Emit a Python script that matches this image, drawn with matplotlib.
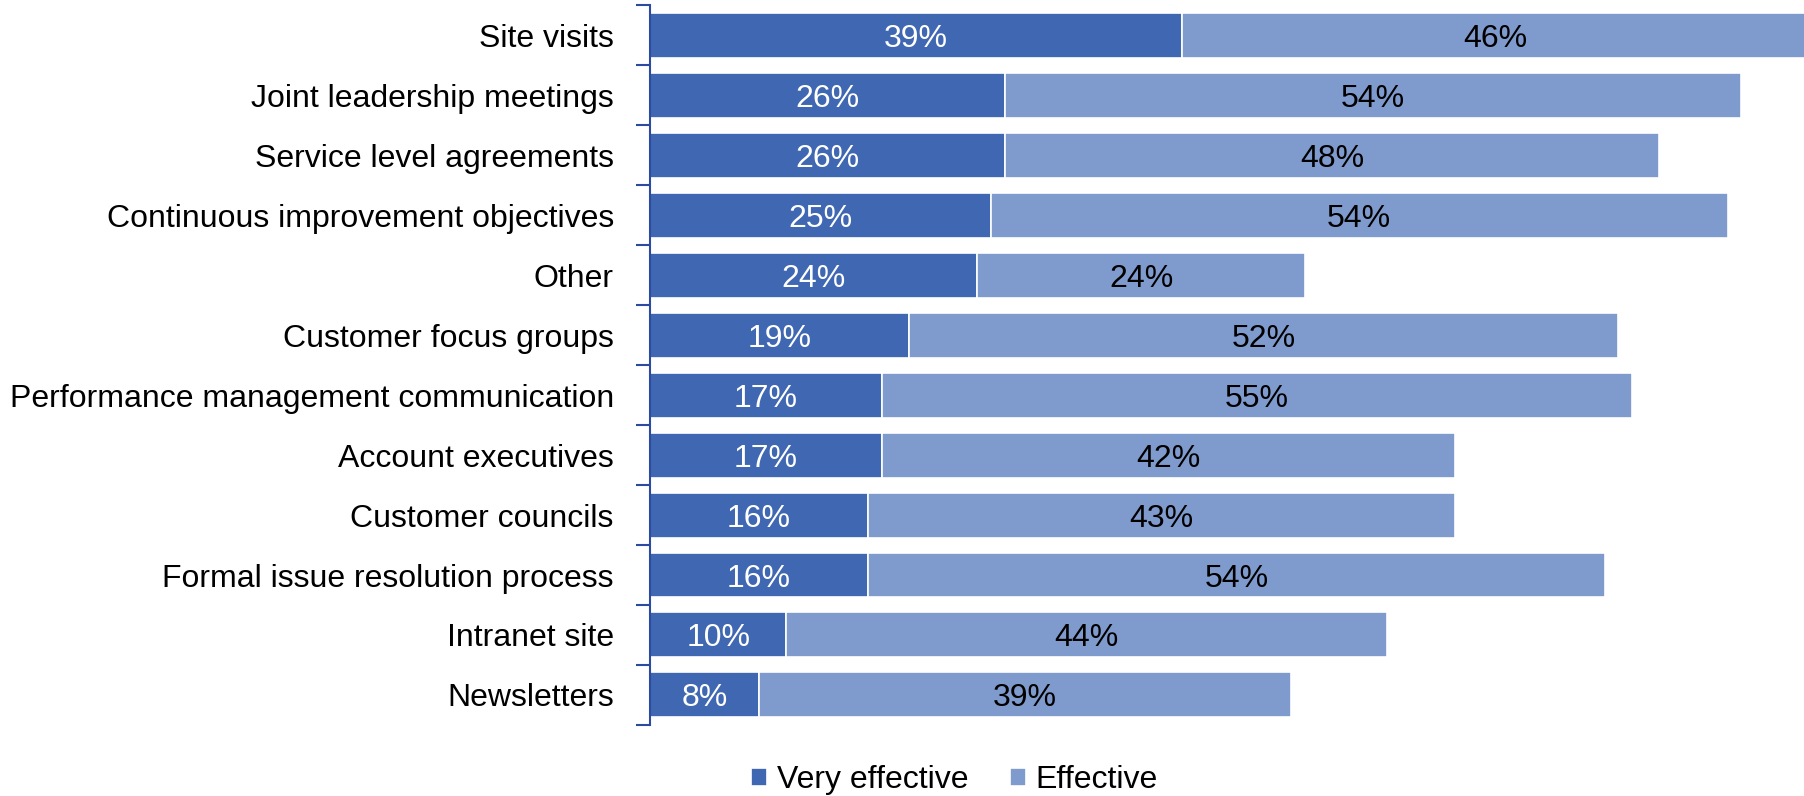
import matplotlib.pyplot as plt
import numpy as np

plt.rcParams['font.family'] = ['Liberation Sans', 'DejaVu Sans']

categories = ["Site visits", "Joint leadership meetings", "Service level agreements",
              "Continuous improvement objectives", "Other", "Customer focus groups",
              "Performance management communication", "Account executives",
              "Customer councils", "Formal issue resolution process",
              "Intranet site", "Newsletters"]
very_effective = [39, 26, 26, 25, 24, 19, 17, 17, 16, 16, 10, 8]
effective = [46, 54, 48, 54, 24, 52, 55, 42, 43, 54, 44, 39]

dark = '#4067B1'
light = '#7F9ACC'
axis_col = '#2A4B9F'
fs = 23

fig = plt.figure(figsize=(18.04, 7.96), dpi=100)
ax = fig.add_axes([0.3603, 0.0892, 0.6397, 0.9045])

y = np.arange(len(categories))
ve = np.array(very_effective)
ef = np.array(effective)
b1 = ax.barh(y, ve, height=0.75, color=dark, edgecolor='white', linewidth=1.2, label='Very effective')
b2 = ax.barh(y, ef, left=ve, height=0.75, color=light, edgecolor='white', linewidth=1.2, label='Effective')

for i in range(len(categories)):
    ax.text(ve[i] / 2, y[i], f"{ve[i]}%", ha='center', va='center_baseline', color='white', fontsize=fs)
    ax.text(ve[i] + ef[i] / 2, y[i], f"{ef[i]}%", ha='center', va='center_baseline', color='black', fontsize=fs)

ax.set_ylim(len(categories) - 0.5, -0.5)
ax.set_xlim(0, 84.6)
ax.set_yticks(y)
ax.set_yticklabels(categories, fontsize=fs)
ax.set_yticks(np.arange(-0.5, len(categories), 1), minor=True)
ax.tick_params(axis='y', which='major', length=0, pad=26)
ax.tick_params(axis='y', which='minor', length=10, width=1.5, color=axis_col, direction='out')
ax.set_xticks([])
for s in ['top', 'right', 'bottom']:
    ax.spines[s].set_visible(False)
ax.spines['left'].set_color(axis_col)
ax.spines['left'].set_linewidth(1.5)

fig.legend(handles=[b1, b2], loc='center', bbox_to_anchor=(0.529, 0.02), ncol=2,
           frameon=False, fontsize=fs, handlelength=0.5, handleheight=0.5,
           handletextpad=0.3, columnspacing=1.3)

fig.savefig('out.png', dpi=100)
